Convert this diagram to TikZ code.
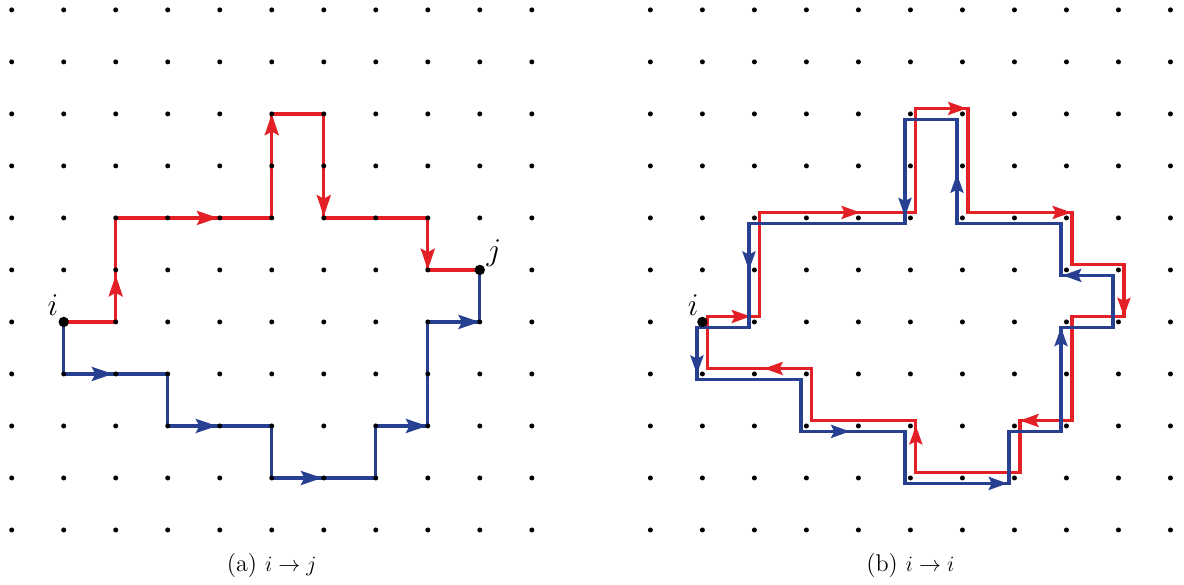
\documentclass[tikz,border=0pt]{standalone}
\usetikzlibrary{arrows.meta}
\definecolor{pred}{RGB}{226,32,38}
\definecolor{pblue}{RGB}{40,64,145}
\begin{document}
\begin{tikzpicture}[
  font=\fontsize{13.2}{16}\selectfont,
  lw/.style={line width=1.75pt, line join=miter},
  rp/.style={lw, draw=pred},
  bp/.style={lw, draw=pblue},
  ra/.style={lw, draw=pred, -{Stealth[length=4.1mm,width=2.7mm,inset=0.7mm]}},
  ba/.style={lw, draw=pblue, -{Stealth[length=4.1mm,width=2.7mm,inset=0.7mm]}},
  rb/.style={lw, draw=pred, -{Stealth[length=3.6mm,width=2.5mm,inset=0.6mm]}},
  bb/.style={lw, draw=pblue, -{Stealth[length=3.6mm,width=2.5mm,inset=0.6mm]}},
  bigdot/.style={circle, fill=black, inner sep=0pt, minimum size=2mm},
  lbl/.style={inner sep=0pt, font=\fontsize{16}{19}\selectfont},
]
\useasboundingbox (-0.225,0.19) rectangle (22.54,-11.053);

% ---------- panel (a) ----------
\draw[rp] (1,-6) -- (2,-6) -- (2,-4) -- (5,-4) -- (5,-2) -- (6,-2) -- (6,-4) -- (8,-4) -- (8,-5) -- (9,-5);
\draw[ra] (2,-5.6) -- (2,-5.1);
\draw[ra] (3.5,-4) -- (3.97,-4);
\draw[ra] (5,-2.5) -- (5,-2);
\draw[ra] (6,-3.5) -- (6,-3.97);
\draw[ra] (8,-4.5) -- (8,-5);

\draw[bp] (1,-6) -- (1,-7) -- (3,-7) -- (3,-8) -- (5,-8) -- (5,-9) -- (7,-9) -- (7,-8) -- (8,-8) -- (8,-6) -- (9,-6) -- (9,-5);
\draw[ba] (1.5,-7) -- (1.95,-7);
\draw[ba] (3.5,-8) -- (3.95,-8);
\draw[ba] (5.5,-9) -- (5.97,-9);
\draw[ba] (7.5,-8) -- (7.99,-8);
\draw[ba] (8.5,-6) -- (9,-6);

\foreach \c in {0,...,10} \foreach \r in {0,...,10} \fill (\c,-\r) circle (0.048);
\node[bigdot] (ia) at (1,-6) {};
\node[bigdot] (ja) at (9,-5) {};
\node[lbl] (ial) at (0.79,-5.67) {$i$};
\node[lbl] (jal) at (9.27,-4.67) {$j$};
\node (capa) at (5,-10.69) {(a) $i \to j$};

% ---------- panel (b) ----------
\begin{scope}[xshift=12.28cm]
  \begin{scope}[shift={(0.105,0.105)}]
    \draw[rp] (1,-6) -- (2,-6) -- (2,-4) -- (5,-4) -- (5,-2) -- (6,-2) -- (6,-4) -- (8,-4) -- (8,-5) -- (9,-5) -- (9,-6) -- (8,-6) -- (8,-8) -- (7,-8) -- (7,-9) -- (5,-9) -- (5,-8) -- (3,-8) -- (3,-7) -- (1,-7) -- cycle;
    \draw[rb] (1.4,-6) -- (1.82,-6);
    \draw[rb] (3.5,-4) -- (3.93,-4);
    \draw[rb] (5.5,-2) -- (5.98,-2);
    \draw[rb] (7.5,-4) -- (7.99,-4);
    \draw[rb] (9,-5.5) -- (9,-6);
    \draw[rb] (7.5,-8) -- (7,-8);
    \draw[rb] (5,-8.6) -- (5,-8.1);
    \draw[rb] (2.55,-7) -- (2.08,-7);
  \end{scope}
  \begin{scope}[shift={(-0.105,-0.105)}]
    \draw[bp] (1,-6) -- (1,-7) -- (3,-7) -- (3,-8) -- (5,-8) -- (5,-9) -- (7,-9) -- (7,-8) -- (8,-8) -- (8,-6) -- (9,-6) -- (9,-5) -- (8,-5) -- (8,-4) -- (6,-4) -- (6,-2) -- (5,-2) -- (5,-4) -- (2,-4) -- (2,-6) -- cycle;
    \draw[bb] (1,-6.4) -- (1,-6.9);
    \draw[bb] (3.5,-8) -- (3.94,-8);
    \draw[bb] (6.5,-9) -- (6.97,-9);
    \draw[bb] (8,-6.5) -- (8,-6);
    \draw[bb] (8.5,-5) -- (8.03,-5);
    \draw[bb] (6,-3.5) -- (6,-3.05);
    \draw[bb] (5,-3.4) -- (5,-3.87);
    \draw[bb] (2,-4.4) -- (2,-4.9);
  \end{scope}
  \foreach \c in {0,...,10} \foreach \r in {0,...,10} \fill (\c,-\r) circle (0.048);
  \node[bigdot] (ib) at (1,-6) {};
  \node[lbl] (ibl) at (0.82,-5.67) {$i$};
  \node (capb) at (5,-10.69) {(b) $i \to i$};
\end{scope}
\end{tikzpicture}
\end{document}
